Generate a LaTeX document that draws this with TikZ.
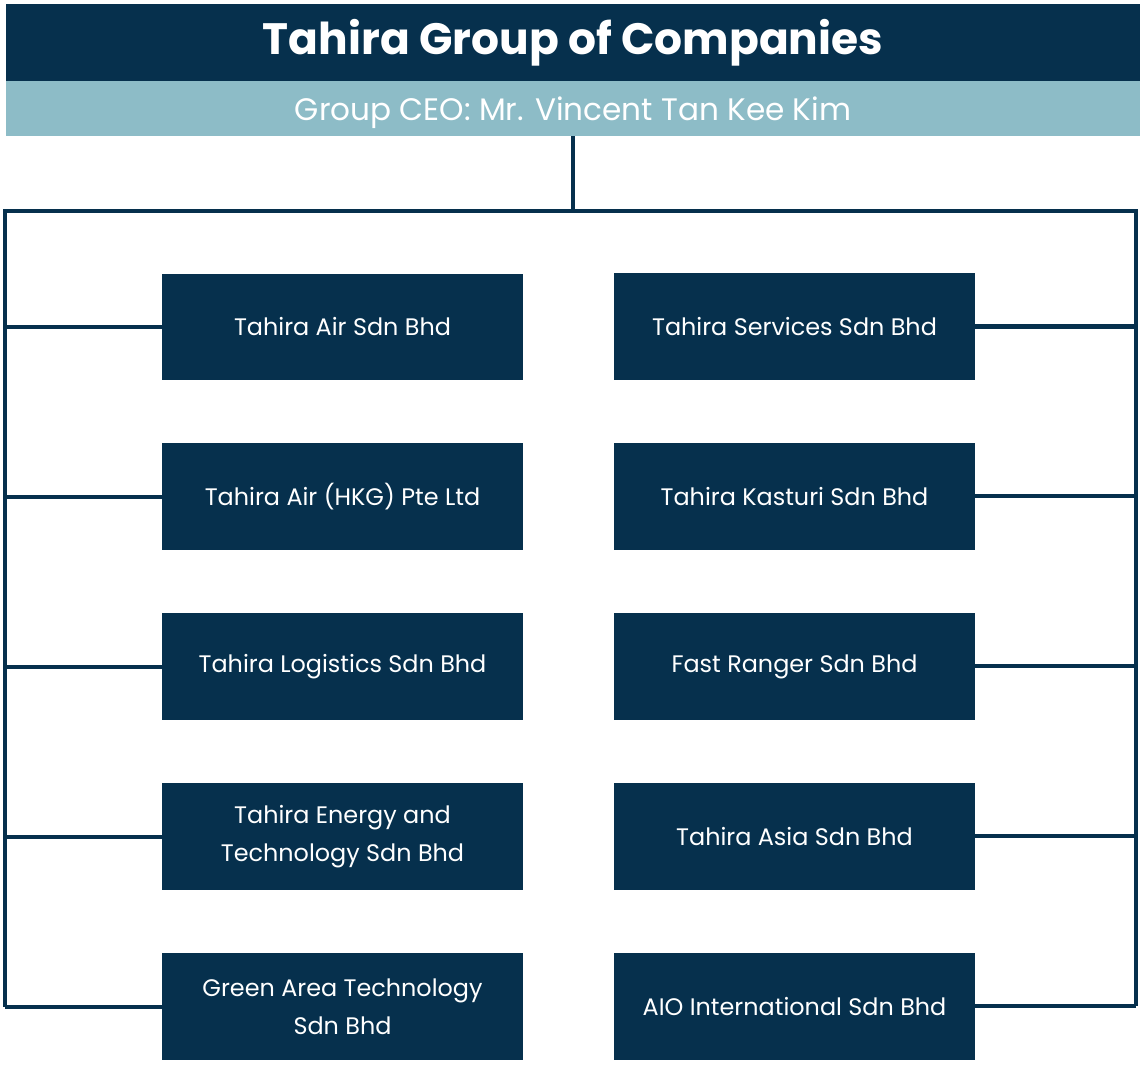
\documentclass[tikz,border=0pt]{standalone}
\usepackage{fontspec}
\setmainfont{Poppins}
\usetikzlibrary{positioning}
\definecolor{navy}{HTML}{06304D}
\definecolor{paleblue}{HTML}{8DBCC7}

\begin{document}
\begin{tikzpicture}[x=0.02cm,y=-0.02cm,node distance=3.4cm,on grid,
    band/.style={text=white,minimum width=22.68cm,inner sep=0pt},
    company/.style={fill=navy,text=white,minimum width=7.22cm,minimum height=2.14cm,
      inner sep=0pt,align=center,font=\fontsize{13.6}{21.5}\selectfont},
    link/.style={draw=navy,line width=2.3pt}]
    \useasboundingbox (0,0) rectangle (1143,1067);
    % header
    \node[band,fill=navy,minimum height=1.54cm,font=\bfseries\fontsize{25}{28}\selectfont] (title) at (573,42.5) {Tahira Group of Companies};
    \node[band,fill=paleblue,minimum height=1.1cm,text depth=0pt,font=\fontsize{17.7}{20}\selectfont] (ceo) at (573,108.5) {Group CEO: Mr. Vincent Tan Kee Kim};
    % left column
    \node[company] (air) at (342.5,327) {Tahira Air Sdn Bhd};
    \node[company] (hkg) [below=of air] {Tahira Air (HKG) Pte Ltd};
    \node[company] (logistics) [below=of hkg] {Tahira Logistics Sdn Bhd};
    \node[company] (energy) [below=of logistics] {Tahira Energy and\\Technology Sdn Bhd};
    \node[company] (green) [below=of energy] {Green Area Technology\\Sdn Bhd};
    % right column
    \node[company] (services) at (794.5,326.5) {Tahira Services Sdn Bhd};
    \node[company] (kasturi) [below=of services] {Tahira Kasturi Sdn Bhd};
    \node[company] (ranger) [below=of kasturi] {Fast Ranger Sdn Bhd};
    \node[company] (asia) [below=of ranger] {Tahira Asia Sdn Bhd};
    \node[company] (aio) [below=of asia] {AIO International Sdn Bhd};
    % connectors
    \coordinate (bus) at (573,211);
    \coordinate (nw) at (5,211);
    \coordinate (ne) at (1136,211);
    \draw[link] (ceo.south) -- (bus);
    \draw[link] (green.west -| nw) -- (nw) -- (ne) -- (aio.east -| ne);
    \foreach \b in {air,hkg,logistics,energy,green}
        \draw[link] (\b.west) -- (\b.west -| nw);
    \foreach \b in {services,kasturi,ranger,asia,aio}
        \draw[link] (\b.east) -- (\b.east -| ne);
\end{tikzpicture}
\end{document}
